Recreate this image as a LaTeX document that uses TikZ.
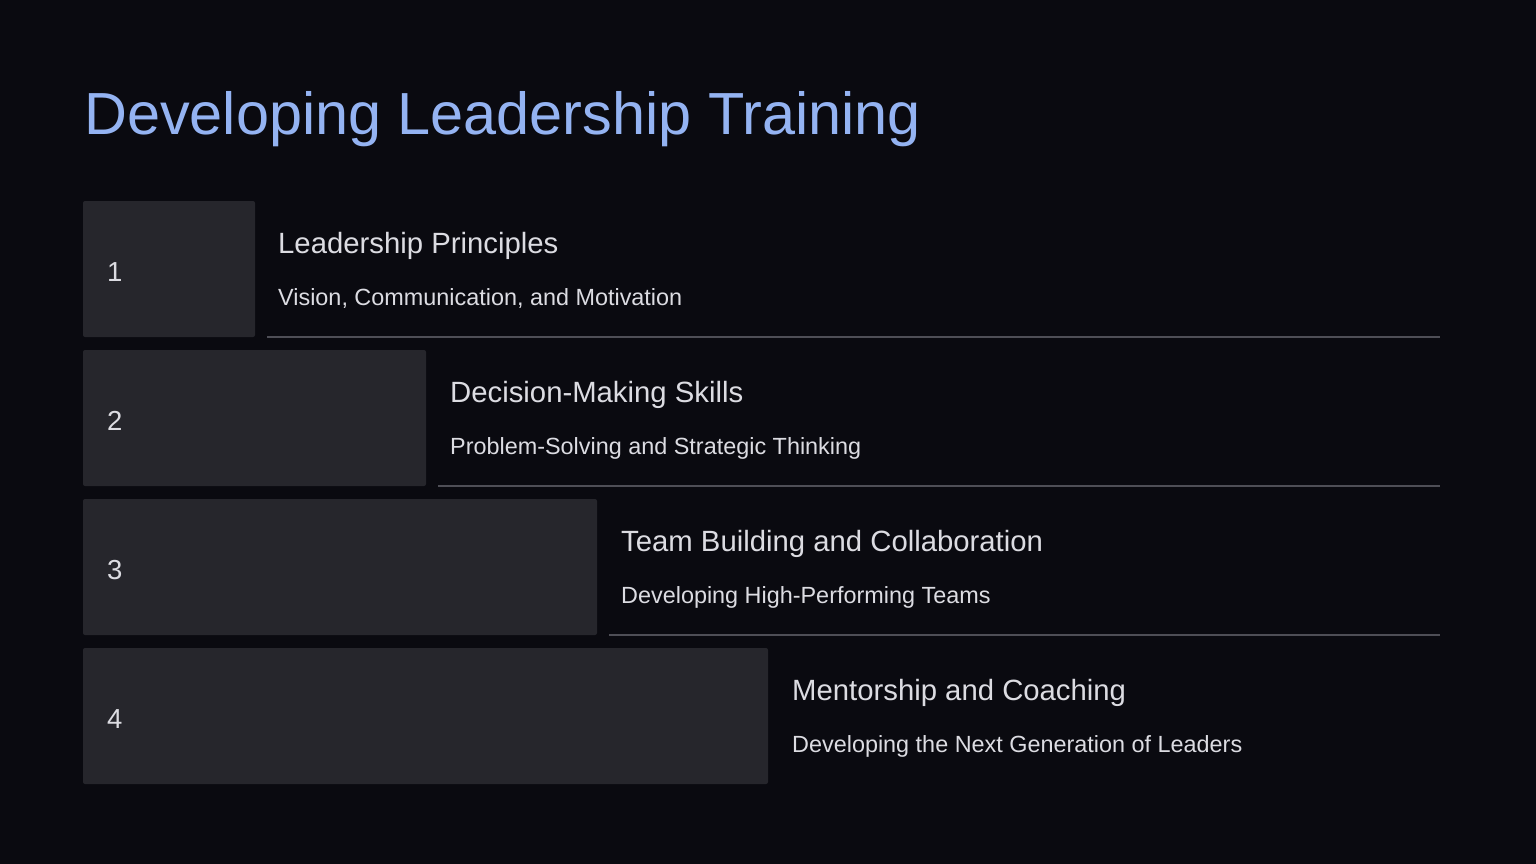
\documentclass[tikz,border=0pt]{standalone}
\usepackage{fontspec}
\setmainfont{Liberation Sans}
\definecolor{bg}{HTML}{0A0A10}
\definecolor{boxc}{HTML}{26262C}
\definecolor{linec}{HTML}{4E4E56}
\definecolor{titlec}{HTML}{94B3F2}
\definecolor{txt}{HTML}{DCDCE2}
\begin{document}
\begin{tikzpicture}[x=1pt,y=-1pt,
  stepbox/.style={fill=boxc,rounded corners=2pt,draw=none},
  numtxt/.style={anchor=base west,inner sep=0pt,text=txt,font=\fontsize{27.5}{32}\selectfont},
  headtxt/.style={anchor=base west,inner sep=0pt,text=txt,font=\fontsize{29.3}{34}\selectfont},
  subtxt/.style={anchor=base west,inner sep=0pt,text=txt,font=\fontsize{23.4}{27}\selectfont},
  sepline/.style={draw=linec,line width=1.5pt}]
\fill[bg] (0,0) rectangle (1536,864);
\useasboundingbox (0,0) rectangle (1536,864);
\node[anchor=base west,inner sep=0pt,text=titlec,font=\fontsize{59.4}{70}\selectfont] (title) at (84,135) {Developing Leadership Training};
% row 1
\fill[stepbox] (83,201) rectangle (255,337);
\node[numtxt] (n1) at (107,281) {1};
\node[headtxt] (h1) at (278,253) {Leadership Principles};
\node[subtxt] (s1) at (278,305) {Vision, Communication, and Motivation};
\coordinate (l1a) at (267,337); \coordinate (l1b) at (1440,337);
\draw[sepline] (l1a) -- (l1b);
% row 2
\fill[stepbox] (83,350) rectangle (426,486);
\node[numtxt] (n2) at (107,430) {2};
\node[headtxt] (h2) at (450,402) {Decision-Making Skills};
\node[subtxt] (s2) at (450,454) {Problem-Solving and Strategic Thinking};
\coordinate (l2a) at (438,486); \coordinate (l2b) at (1440,486);
\draw[sepline] (l2a) -- (l2b);
% row 3
\fill[stepbox] (83,499) rectangle (597,635);
\node[numtxt] (n3) at (107,579) {3};
\node[headtxt] (h3) at (621,551) {Team Building and Collaboration};
\node[subtxt] (s3) at (621,603) {Developing High-Performing Teams};
\coordinate (l3a) at (609,635); \coordinate (l3b) at (1440,635);
\draw[sepline] (l3a) -- (l3b);
% row 4
\fill[stepbox] (83,648) rectangle (768,784);
\node[numtxt] (n4) at (107,728) {4};
\node[headtxt] (h4) at (792,700) {Mentorship and Coaching};
\node[subtxt] (s4) at (792,752) {Developing the Next Generation of Leaders};
\end{tikzpicture}
\end{document}
